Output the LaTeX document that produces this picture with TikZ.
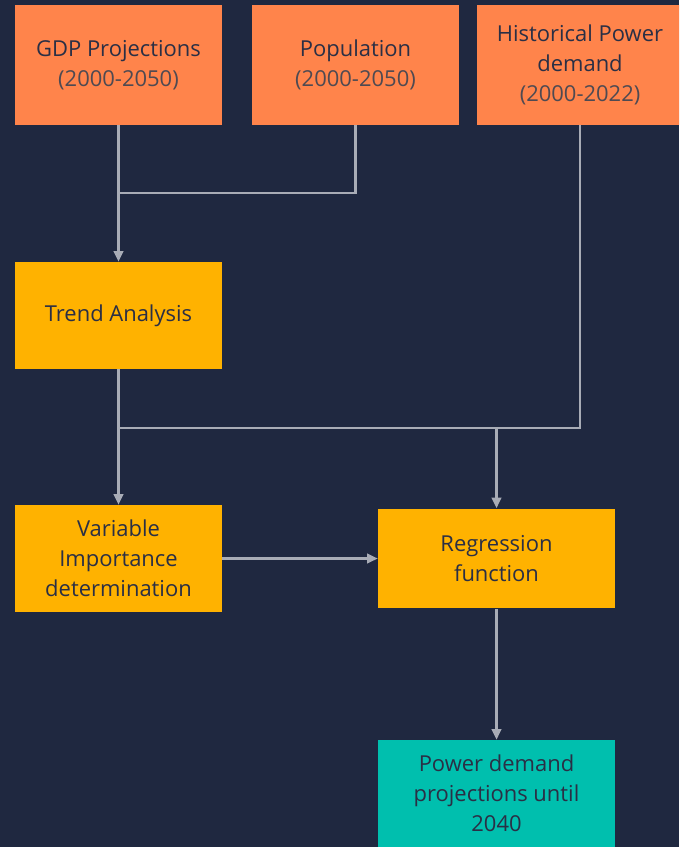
\documentclass[tikz,border=0pt]{standalone}
\usepackage{fontspec}
\setmainfont{Open Sans}
\usepackage{tikz}
\usetikzlibrary{calc,shapes,arrows.meta}

\definecolor{bgblue}{HTML}{1F2840}
\definecolor{boxorange}{HTML}{FF844B}
\definecolor{boxyellow}{HTML}{FFB200}
\definecolor{boxteal}{HTML}{00BFAE}
\definecolor{txtdark}{HTML}{2A2F45}
\definecolor{txtyears}{HTML}{4E4A52}
\definecolor{linegray}{HTML}{A8ACB6}

\tikzset{
  inbox/.style={fill=boxorange,minimum width=4.14cm,minimum height=2.4cm,
    inner sep=0pt,align=center,text=txtdark,font=\fontsize{12.5}{17}\selectfont},
  stepbox/.style={inbox,fill=boxyellow,minimum height=2.14cm},
  outbox/.style={inbox,fill=boxteal,minimum width=4.74cm,minimum height=2.14cm},
  conn/.style={draw=linegray,line width=1.2pt},
  arr/.style={conn,-{Triangle[length=6pt,width=5.5pt,fill=linegray]}}
}

\begin{document}
\begin{tikzpicture}[x=0.02cm,y=-0.02cm]
   \useasboundingbox (0,0) rectangle (679,847);
   \clip (0,0) rectangle (679,847);
   \fill[bgblue] (0,0) rectangle (679,847);
   \node[inbox] (gdp) at (118.5,65) {GDP Projections\\{\color{txtyears}(2000-2050)}};
   \node[inbox] (pop) at (355.5,65) {Population\\{\color{txtyears}(2000-2050)}};
   \node[inbox] (hist) at (580,65) {Historical Power\\demand\\{\color{txtyears}(2000-2022)}};
   \node[stepbox] (trend) at (118.5,315.5) {Trend Analysis};
   \node[stepbox] (var) at (118.5,558.5) {Variable\\Importance\\determination};
   \node[stepbox,minimum width=4.74cm,minimum height=2cm] (reg) at (496.5,558.5) {Regression\\function};
   \node[outbox] (out) at (496.5,793.5) {Power demand\\projections until\\2040};
   \coordinate (j1) at (118.5,193);
   \coordinate (j2) at (118.5,428);
   \coordinate (j3) at (496.5,428);
   \draw[conn] (pop.south) |- (j1);
   \draw[conn] (hist.south) |- (j2);
   \draw[arr] (gdp) -- (trend);
   \draw[arr] (trend) -- (var);
   \draw[arr] (j3) -- (reg);
   \draw[arr] (var) -- (reg);
   \draw[arr] (reg) -- (out);
\end{tikzpicture}
\end{document}
